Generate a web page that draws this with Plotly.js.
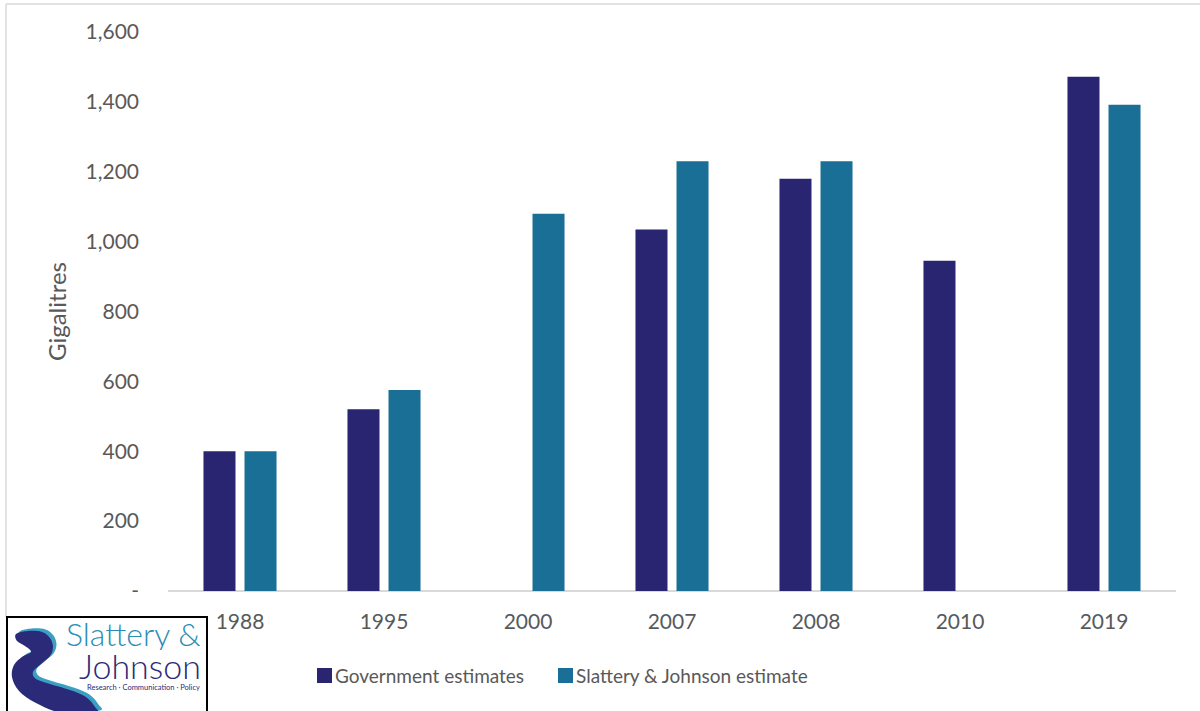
<!DOCTYPE html>
<html>
<head>
<meta charset="utf-8">
<script src="https://cdn.plot.ly/plotly-3.0.1.min.js"></script>
<style>
html,body{margin:0;padding:0;background:#fff;}
#chart{width:1200px;height:711px;}
</style>
</head>
<body>
<div id="chart"></div>
<script>
const years = ['1988', '1995', '2000', '2007', '2008', '2010', '2019'];
const governmentEstimates = [400, 520, null, 1035, 1180, 945, 1472];
const sjEstimates = [400, 575, 1080, 1230, 1230, null, 1392];
const seriesNames = ['Government estimates', 'Slattery & Johnson estimate'];
const seriesColors = ['#292570', '#196f96'];
const yTickVals = [0, 200, 400, 600, 800, 1000, 1200, 1400, 1600];
const yTickText = ['-', '200', '400', '600', '800', '1,000', '1,200', '1,400', '1,600'];

const W = 1200, H = 711;
const M = {l: 168, r: 24, t: 32, b: 120};
const PW = W - M.l - M.r, PH = H - M.t - M.b;
const px = x => (x - M.l) / PW;
const py = y => (H - M.b - y) / PH;

const FONT = 'Lato, "Open Sans", sans-serif';
const GREY = '#595959';
const NAVY = '#2b2a78';

const traces = [
  {type: 'bar', x: years, y: governmentEstimates, name: seriesNames[0],
   marker: {color: seriesColors[0]}, hoverinfo: 'x+y'},
  {type: 'bar', x: years, y: sjEstimates, name: seriesNames[1],
   marker: {color: seriesColors[1]}, hoverinfo: 'x+y'}
];

// --- logo drawing helpers (pixel coords -> paper) ---
function smoothClosed(pts, dx, dy) {
  const P = pts.map(p => [px(p[0] + dx), py(p[1] + dy)]);
  const n = P.length;
  let d = 'M ' + P[0][0] + ',' + P[0][1];
  for (let i = 0; i < n; i++) {
    const p0 = P[(i - 1 + n) % n], p1 = P[i], p2 = P[(i + 1) % n], p3 = P[(i + 2) % n];
    const c1 = [p1[0] + (p2[0] - p0[0]) / 6, p1[1] + (p2[1] - p0[1]) / 6];
    const c2 = [p2[0] - (p3[0] - p1[0]) / 6, p2[1] - (p3[1] - p1[1]) / 6];
    d += ' C ' + c1[0] + ',' + c1[1] + ' ' + c2[0] + ',' + c2[1] + ' ' + p2[0] + ',' + p2[1];
  }
  return d + ' Z';
}
const swirl = [[16,634],[28,631],[42,632],[50,638],[53,647],[50,656],[41,664],[33,672],
               [36,679],[50,684],[70,690],[86,697],[95,707],[96,713],[62,713],[36,703],
               [19,691],[12,677],[14,665],[22,657],[31,652],[25,646],[17,641]];

const shapes = [
  {type: 'line', xref: 'paper', yref: 'paper', x0: px(6), x1: px(1200), y0: py(4), y1: py(4),
   line: {color: '#d9d9d9', width: 1.5}},
  {type: 'line', xref: 'paper', yref: 'paper', x0: px(6), x1: px(6), y0: py(4), y1: py(617),
   line: {color: '#d9d9d9', width: 1.5}},
  {type: 'rect', xref: 'paper', yref: 'paper', x0: px(7), x1: px(207), y0: py(617), y1: py(714),
   line: {color: '#000', width: 2}, fillcolor: '#fff', layer: 'above'},
  {type: 'path', xref: 'paper', yref: 'paper', path: smoothClosed(swirl, 3.5, -2.5),
   line: {width: 0}, fillcolor: '#3b9fc4', layer: 'above'},
  {type: 'path', xref: 'paper', yref: 'paper', path: smoothClosed(swirl, 0, 0),
   line: {width: 0}, fillcolor: NAVY, layer: 'above'}
];

const annotations = [
  {xref: 'paper', yref: 'paper', x: px(203), y: py(633), xanchor: 'right', yanchor: 'middle',
   text: 'Slattery &amp;', showarrow: false, height: 34,
   font: {family: 'Lato, sans-serif', size: 32, color: '#2a8db4', weight: 300}},
  {xref: 'paper', yref: 'paper', x: px(203), y: py(665), xanchor: 'right', yanchor: 'middle',
   text: 'Johnson', showarrow: false, height: 28,
   font: {family: 'Lato, sans-serif', size: 34, color: NAVY, weight: 300}},
  {xref: 'paper', yref: 'paper', x: px(202), y: py(687), xanchor: 'right', yanchor: 'middle',
   text: 'Research · Communication · Policy', showarrow: false, height: 9,
   font: {family: 'Lato, sans-serif', size: 7.5, color: NAVY}}
];

// custom legend (entries from series arrays)
const legendX = [317, 558];
seriesNames.forEach((name, i) => {
  shapes.push({type: 'rect', xref: 'paper', yref: 'paper',
    x0: px(legendX[i]), x1: px(legendX[i] + 15), y0: py(668), y1: py(683),
    line: {width: 0}, fillcolor: seriesColors[i]});
  annotations.push({xref: 'paper', yref: 'paper', x: px(legendX[i] + 16), y: py(675.5),
    xanchor: 'left', yanchor: 'middle', text: name.replace('&', '&amp;'), showarrow: false,
    font: {family: FONT, size: 19, color: GREY}});
});

const layout = {
  width: W, height: H,
  margin: M,
  paper_bgcolor: '#fff', plot_bgcolor: '#fff',
  font: {family: FONT, color: GREY, size: 20},
  barmode: 'group', bargap: 0.43, bargroupgap: 0.22,
  showlegend: false,
  xaxis: {type: 'category', showgrid: false, zeroline: false, showline: false,
          ticks: '', tickfont: {family: FONT, size: 21, color: GREY}, ticklabelstandoff: 16},
  yaxis: {range: [0, 1600], tickvals: yTickVals, ticktext: yTickText, showgrid: false,
          zeroline: true, zerolinecolor: '#d9d9d9', zerolinewidth: 1.5, showline: false,
          ticks: '', ticklabelstandoff: 28,
          tickfont: {family: FONT, size: 21, color: GREY},
          title: {text: 'Gigalitres', standoff: 12, font: {family: FONT, size: 24, color: GREY}}},
  shapes: shapes,
  annotations: annotations
};

Plotly.newPlot('chart', traces, layout, {displayModeBar: false, staticPlot: true});
</script>
</body>
</html>
